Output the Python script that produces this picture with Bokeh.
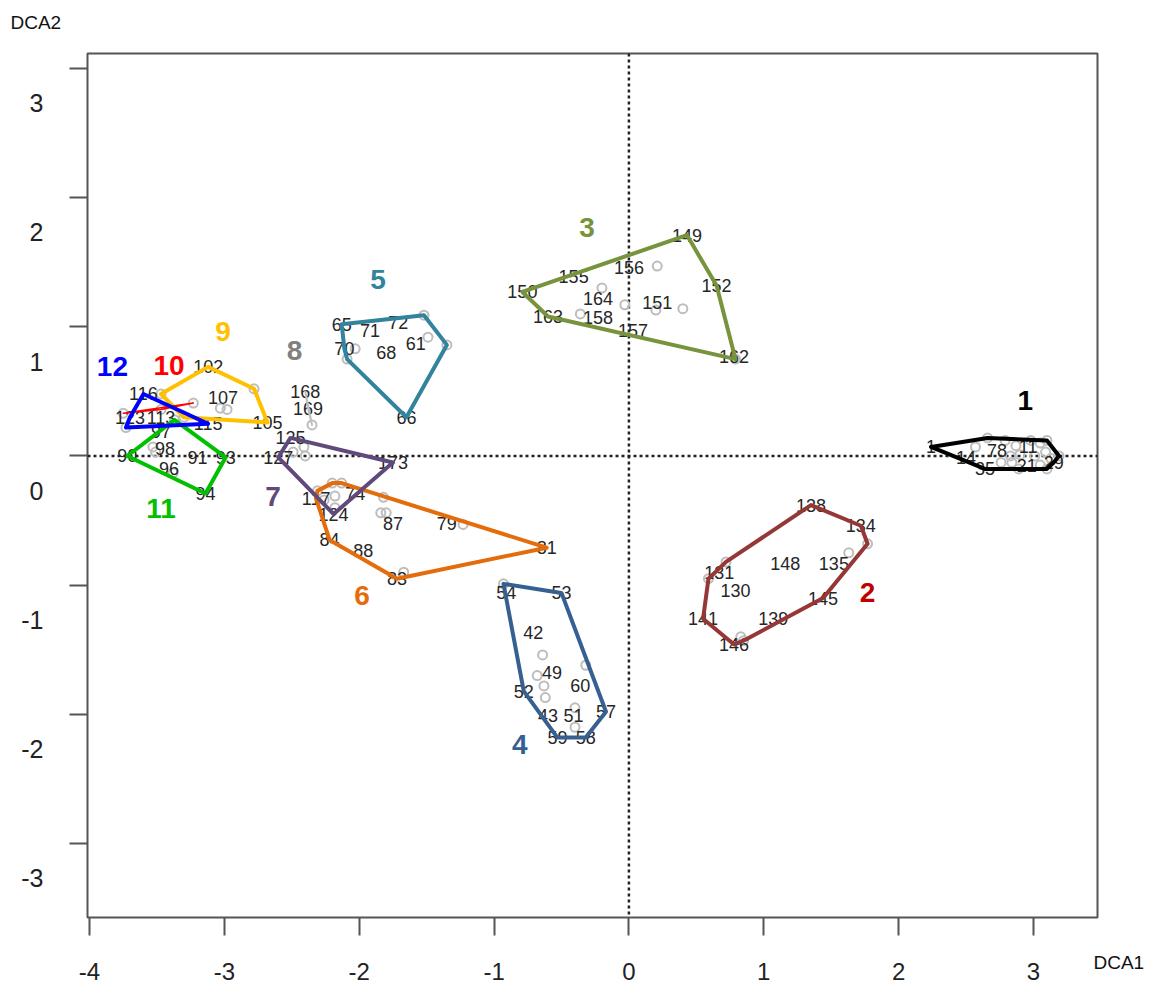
import numpy as np
from bokeh.plotting import figure
from bokeh.models import Range1d, LinearAxis, FixedTicker, Span
from bokeh.core.properties import value
from bokeh.embed import file_html
from bokeh.resources import INLINE

# ---------------- data (DCA site scores) ----------------
c1_x = [2.24, 2.50, 2.73, 2.96, 2.64, 2.95, 3.15, 2.66, 3.10, 3.19, 3.10, 2.79, 2.87, 2.98,
        3.05, 2.83, 2.90, 3.01, 3.09, 2.76, 2.84, 3.05, 3.13, 2.57, 2.89]
c1_y = [0.07, -0.01, 0.04, 0.07, -0.10, -0.07, -0.05, 0.14, 0.12, 0.00, -0.10, 0.12, 0.08, 0.12,
        0.10, 0.00, 0.01, 0.00, 0.03, -0.05, -0.05, -0.07, -0.02, 0.07, -0.10]
c1_lab = ["1", "14", "78", "11", "35", "21", "29"] + [""] * 18

c2_x = [1.35, 1.72, 1.16, 1.52, 0.67, 0.79, 1.44, 1.07, 0.55, 0.78, 1.77, 1.63, 0.59, 0.72, 0.83, 0.85]
c2_y = [-0.38, -0.54, -0.83, -0.83, -0.90, -1.04, -1.10, -1.26, -1.26, -1.46, -0.68, -0.75, -0.95, -0.82, -1.40, -1.43]
c2_lab = ["138", "134", "148", "135", "131", "130", "145", "139", "141", "146"] + [""] * 6

c3_x = [0.43, 0.65, 0.78, -0.79, -0.60, -0.41, 0.00, -0.23, -0.23, 0.03, 0.21, 0.21, -0.20, -0.03, 0.20, 0.40, -0.36, 0.79]
c3_y = [1.71, 1.32, 0.77, 1.27, 1.08, 1.39, 1.46, 1.22, 1.07, 0.97, 1.19, 1.47, 1.30, 1.17, 1.13, 1.14, 1.10, 0.75]
c3_lab = ["149", "152", "162", "150", "163", "155", "156", "164", "158", "157", "151"] + [""] * 7

c4_x = [-0.91, -0.50, -0.71, -0.57, -0.36, -0.78, -0.60, -0.41, -0.17, -0.53, -0.32, -0.93, -0.64, -0.68,
        -0.63, -0.62, -0.32, -0.40, -0.40]
c4_y = [-1.06, -1.06, -1.37, -1.68, -1.78, -1.82, -2.01, -2.01, -1.98, -2.18, -2.18, -0.99, -1.54, -1.70,
        -1.78, -1.87, -1.62, -1.95, -2.10]
c4_lab = ["54", "53", "42", "49", "60", "52", "43", "51", "57", "59", "58"] + [""] * 8

c5_x = [-2.13, -1.71, -1.92, -1.58, -2.11, -1.80, -1.65, -1.52, -1.49, -1.35, -2.03, -2.09]
c5_y = [1.02, 1.03, 0.97, 0.87, 0.83, 0.80, 0.30, 1.09, 0.92, 0.86, 0.83, 0.75]
c5_lab = ["65", "72", "71", "61", "70", "68", "66"] + [""] * 5

c6_x = [-0.61, -1.72, -2.22, -2.32, -2.03, -1.75, -1.35, -1.97, -2.31, -2.20, -2.13, -2.26, -2.18, -2.18,
        -1.82, -1.84, -1.80, -1.23, -1.67]
c6_y = [-0.71, -0.95, -0.65, -0.33, -0.29, -0.52, -0.52, -0.73, -0.27, -0.21, -0.21, -0.34, -0.31, -0.40,
        -0.32, -0.44, -0.44, -0.53, -0.90]
c6_lab = ["81", "83", "84", "117", "74", "87", "79", "88"] + [""] * 11

c7_x = [-2.51, -2.60, -1.75, -2.19, -2.49, -2.41, -2.40]
c7_y = [0.14, -0.01, -0.05, -0.45, 0.03, 0.07, 0.00]
c7_lab = ["125", "127", "173", "124", "", "", ""]

c8_x = [-2.40, -2.38, -2.35]
c8_y = [0.50, 0.37, 0.24]
c8_lab = ["168", "169", ""]

c9_x = [-3.12, -2.68, -3.01, -2.78, -3.03, -2.98, -3.47, -3.30]
c9_y = [0.69, 0.26, 0.45, 0.52, 0.37, 0.36, 0.48, 0.30]
c9_lab = ["102", "105", "107", "", "", "", "", ""]

c10_x = [-3.75, -3.23, -3.47]
c10_y = [0.33, 0.41, 0.36]
c10_lab = ["", "", ""]

c11_x = [-3.72, -2.99, -3.14, -3.44, -3.41, -3.20, -3.47, -3.37, -3.53, -3.51, -3.38]
c11_y = [0.00, -0.01, -0.29, 0.06, -0.10, -0.01, 0.19, 0.28, 0.07, 0.03, -0.13]
c11_lab = ["90", "93", "94", "98", "96", "91", "97", "", "", "", ""]

c12_x = [-3.60, -3.70, -3.47, -3.12, -3.73]
c12_y = [0.48, 0.30, 0.30, 0.25, 0.22]
c12_lab = ["116", "123", "113", "115", ""]

group_names = ["1", "2", "3", "4", "5", "6", "7", "8", "9", "10", "11", "12"]
group_x = [2.94, 1.77, -0.31, -0.81, -1.86, -1.98, -2.64, -2.48, -3.01, -3.41, -3.47, -3.83]
group_y = [0.43, -1.06, 1.77, -2.23, 1.37, -1.08, -0.31, 0.82, 0.96, 0.70, -0.41, 0.69]
hull_colors = ["#000000", "#953735", "#77933C", "#376092", "#31849B", "#E46C0A",
               "#604A7B", "#BFBFBF", "#FFC000", "#FF0000", "#00C000", "#0000FF"]
title_colors = ["#000000", "#C00000", "#77933C", "#376092", "#31849B", "#E46C0A",
                "#604A7B", "#808080", "#FFC000", "#FF0000", "#00C000", "#0000FF"]
hull_widths = [4, 4, 4, 4, 4, 4, 4, 2, 4, 1.5, 4, 4]

x_ticks = [-4, -3, -2, -1, 0, 1, 2, 3]
y_ticks = [-3, -2, -1, 0, 1, 2, 3]
x_title = "DCA1"
y_title = "DCA2"

clusters = [(c1_x, c1_y, c1_lab), (c2_x, c2_y, c2_lab), (c3_x, c3_y, c3_lab), (c4_x, c4_y, c4_lab),
            (c5_x, c5_y, c5_lab), (c6_x, c6_y, c6_lab), (c7_x, c7_y, c7_lab), (c8_x, c8_y, c8_lab),
            (c9_x, c9_y, c9_lab), (c10_x, c10_y, c10_lab), (c11_x, c11_y, c11_lab), (c12_x, c12_y, c12_lab)]


def convex_hull(xs, ys):
    pts = sorted(set(zip(xs, ys)))
    if len(pts) <= 2:
        return pts

    def cross(o, a, b):
        return (a[0] - o[0]) * (b[1] - o[1]) - (a[1] - o[1]) * (b[0] - o[0])

    lower, upper = [], []
    for q in pts:
        while len(lower) >= 2 and cross(lower[-2], lower[-1], q) <= 0:
            lower.pop()
        lower.append(q)
    for q in reversed(pts):
        while len(upper) >= 2 and cross(upper[-2], upper[-1], q) <= 0:
            upper.pop()
        upper.append(q)
    return lower[:-1] + upper[:-1]


FONT = value("Liberation Sans")
X0, X1 = -4.015, 3.475
Y0, Y1 = -3.573, 3.116

p = figure(width=1151, height=988, x_range=Range1d(X0, X1), y_range=Range1d(Y0, Y1),
           title=y_title + "\n", output_backend="svg", toolbar_location=None,
           min_border_left=87, min_border_right=54, min_border_top=53, min_border_bottom=71)
p.grid.visible = False
p.outline_line_color = "#555555"
p.outline_line_width = 2
p.background_fill_color = "white"
p.border_fill_color = "white"

# y title at top-left (as in the original)
p.title.align = "left"
p.title.offset = -77
p.title.standoff = 0
p.title.text_font = "Liberation Sans"
p.title.text_font_size = "19px"
p.title.text_font_style = "normal"
p.title.text_color = "#111111"

# bottom axis
xa = p.xaxis[0]
xa.ticker = FixedTicker(ticks=x_ticks)
xa.major_label_overrides = {float(t): str(t) for t in x_ticks}
xa.axis_line_color = None
xa.major_tick_in = 0
xa.major_tick_out = 18
xa.major_tick_line_color = "#555555"
xa.major_tick_line_width = 2
xa.minor_tick_line_color = None
xa.major_label_text_font = "Liberation Sans"
xa.major_label_text_font_size = "24px"
xa.major_label_text_color = "#222222"
xa.major_label_standoff = 27

# left axis; its labels sit a little below their ticks, as in the original
ya = p.yaxis[0]
ya.ticker = FixedTicker(ticks=y_ticks)
ya.major_label_overrides = {float(t): "\n\n" + str(t) for t in y_ticks}
ya.axis_line_color = None
ya.major_tick_in = 0
ya.major_tick_out = 18
ya.major_tick_line_color = "#555555"
ya.major_tick_line_width = 2
ya.minor_tick_line_color = None
ya.major_label_text_font = "Liberation Sans"
ya.major_label_text_font_size = "25px"
ya.major_label_text_line_height = 1.24
ya.major_label_text_color = "#222222"
ya.major_label_standoff = 26

# x title in the bottom-right corner, hung from a label-only right axis
p.extra_y_ranges = {"xtitle": Range1d(-0.006, 1)}
xt = LinearAxis(y_range_name="xtitle", ticker=FixedTicker(ticks=[0]))
xt.major_label_overrides = {0.0: "\n\n\n\n" + x_title}
xt.axis_line_color = None
xt.major_tick_line_color = None
xt.minor_tick_line_color = None
xt.major_tick_in = 0
xt.major_tick_out = 0
xt.major_label_text_font = "Liberation Sans"
xt.major_label_text_font_size = "19px"
xt.major_label_text_color = "#111111"
xt.major_label_standoff = -4
p.add_layout(xt, "right")

# dotted zero lines
for dim in ("width", "height"):
    p.add_layout(Span(location=0, dimension=dim, line_color="#222222", line_width=2.5,
                      line_dash="3 3", level="underlay"))

# sites
for (xs, ys, labs) in clusters:
    cx = [x for x, l in zip(xs, labs) if l == ""]
    cy = [y for y, l in zip(ys, labs) if l == ""]
    if cx:
        p.scatter(cx, cy, marker="circle", size=9, fill_color=None,
                  line_color="#BDBDBD", line_width=2)
    tx = [x for x, l in zip(xs, labs) if l != ""]
    ty = [y for y, l in zip(ys, labs) if l != ""]
    tl = [l for l in labs if l != ""]
    if tl:
        p.text(tx, ty, text=tl, text_font=FONT, text_font_size="18px",
               text_color="#262626", text_align="center", text_baseline="middle")

# hulls
for (xs, ys, labs), col, w in zip(clusters, hull_colors, hull_widths):
    h = convex_hull(xs, ys)
    hx = [q[0] for q in h]
    hy = [q[1] for q in h]
    p.patch(hx, hy, fill_color=None, line_color=col, line_width=w, line_join="round")

# group numbers
p.text(group_x, group_y, text=group_names, text_font=FONT, text_font_size="28px",
       text_font_style="bold", text_color=title_colors, text_align="center",
       text_baseline="middle")

open("out.html", "w").write(file_html(p, INLINE))
